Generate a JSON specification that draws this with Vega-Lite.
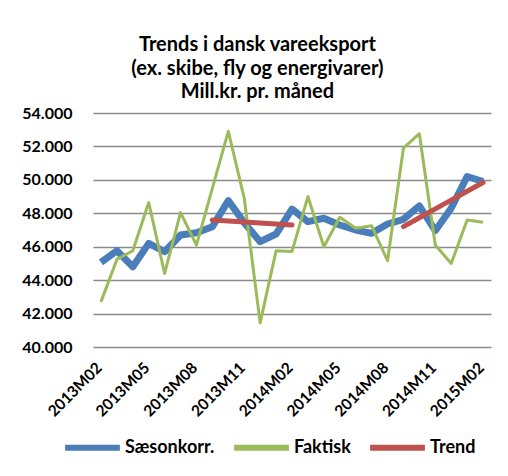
{
  "$schema": "https://vega.github.io/schema/vega-lite/v6.json",
  "width": 398,
  "height": 234,
  "autosize": {"type": "none"},
  "padding": {"left": 93, "top": 113, "right": 17, "bottom": 129},
  "background": "white",
  "config": {
    "font": "Lato",
    "view": {"stroke": null},
    "axis": {"labelFont": "Lato", "labelFontWeight": "bold", "labelColor": "#000000", "labelFontSize": 16}
  },
  "title": {
    "text": ["Trends i  dansk vareeksport", "(ex. skibe, fly og energivarer)", "Mill.kr. pr. måned"],
    "font": "Lato",
    "fontSize": 20,
    "fontWeight": "bold",
    "color": "#000000",
    "lineHeight": 23.5,
    "anchor": "middle",
    "frame": "bounds",
    "offset": 3
  },
  "datasets": {
    "saeson": [
      {"month": "2013M02", "series": "Sæsonkorr.", "value": 45060},
      {"month": "2013M03", "series": "Sæsonkorr.", "value": 45760},
      {"month": "2013M04", "series": "Sæsonkorr.", "value": 44800},
      {"month": "2013M05", "series": "Sæsonkorr.", "value": 46200},
      {"month": "2013M06", "series": "Sæsonkorr.", "value": 45700},
      {"month": "2013M07", "series": "Sæsonkorr.", "value": 46700},
      {"month": "2013M08", "series": "Sæsonkorr.", "value": 46840},
      {"month": "2013M09", "series": "Sæsonkorr.", "value": 47200},
      {"month": "2013M10", "series": "Sæsonkorr.", "value": 48760},
      {"month": "2013M11", "series": "Sæsonkorr.", "value": 47440},
      {"month": "2013M12", "series": "Sæsonkorr.", "value": 46300},
      {"month": "2014M01", "series": "Sæsonkorr.", "value": 46760},
      {"month": "2014M02", "series": "Sæsonkorr.", "value": 48250},
      {"month": "2014M03", "series": "Sæsonkorr.", "value": 47500},
      {"month": "2014M04", "series": "Sæsonkorr.", "value": 47700},
      {"month": "2014M05", "series": "Sæsonkorr.", "value": 47300},
      {"month": "2014M06", "series": "Sæsonkorr.", "value": 47000},
      {"month": "2014M07", "series": "Sæsonkorr.", "value": 46800},
      {"month": "2014M08", "series": "Sæsonkorr.", "value": 47360},
      {"month": "2014M09", "series": "Sæsonkorr.", "value": 47640},
      {"month": "2014M10", "series": "Sæsonkorr.", "value": 48440},
      {"month": "2014M11", "series": "Sæsonkorr.", "value": 46960},
      {"month": "2014M12", "series": "Sæsonkorr.", "value": 48300},
      {"month": "2015M01", "series": "Sæsonkorr.", "value": 50200},
      {"month": "2015M02", "series": "Sæsonkorr.", "value": 49900}
    ],
    "faktisk": [
      {"month": "2013M02", "series": "Faktisk", "value": 42700},
      {"month": "2013M03", "series": "Faktisk", "value": 45240},
      {"month": "2013M04", "series": "Faktisk", "value": 45760},
      {"month": "2013M05", "series": "Faktisk", "value": 48640},
      {"month": "2013M06", "series": "Faktisk", "value": 44400},
      {"month": "2013M07", "series": "Faktisk", "value": 48040},
      {"month": "2013M08", "series": "Faktisk", "value": 46100},
      {"month": "2013M09", "series": "Faktisk", "value": 49500},
      {"month": "2013M10", "series": "Faktisk", "value": 52900},
      {"month": "2013M11", "series": "Faktisk", "value": 48900},
      {"month": "2013M12", "series": "Faktisk", "value": 41440},
      {"month": "2014M01", "series": "Faktisk", "value": 45760},
      {"month": "2014M02", "series": "Faktisk", "value": 45720},
      {"month": "2014M03", "series": "Faktisk", "value": 49000},
      {"month": "2014M04", "series": "Faktisk", "value": 46000},
      {"month": "2014M05", "series": "Faktisk", "value": 47760},
      {"month": "2014M06", "series": "Faktisk", "value": 47100},
      {"month": "2014M07", "series": "Faktisk", "value": 47260},
      {"month": "2014M08", "series": "Faktisk", "value": 45160},
      {"month": "2014M09", "series": "Faktisk", "value": 51900},
      {"month": "2014M10", "series": "Faktisk", "value": 52760},
      {"month": "2014M11", "series": "Faktisk", "value": 46100},
      {"month": "2014M12", "series": "Faktisk", "value": 45000},
      {"month": "2015M01", "series": "Faktisk", "value": 47600},
      {"month": "2015M02", "series": "Faktisk", "value": 47460}
    ],
    "trend": [
      {"month": "2013M09", "series": "Trend", "seg": "a", "value": 47600},
      {"month": "2013M10", "series": "Trend", "seg": "a", "value": 47540},
      {"month": "2013M11", "series": "Trend", "seg": "a", "value": 47480},
      {"month": "2013M12", "series": "Trend", "seg": "a", "value": 47420},
      {"month": "2014M01", "series": "Trend", "seg": "a", "value": 47360},
      {"month": "2014M02", "series": "Trend", "seg": "a", "value": 47300},
      {"month": "2014M09", "series": "Trend", "seg": "b", "value": 47200},
      {"month": "2014M10", "series": "Trend", "seg": "b", "value": 47730},
      {"month": "2014M11", "series": "Trend", "seg": "b", "value": 48260},
      {"month": "2014M12", "series": "Trend", "seg": "b", "value": 48790},
      {"month": "2015M01", "series": "Trend", "seg": "b", "value": 49320},
      {"month": "2015M02", "series": "Trend", "seg": "b", "value": 49840}
    ]
  },
  "encoding": {
    "x": {
      "field": "month",
      "type": "ordinal",
      "scale": {
        "type": "point",
        "padding": 0.5,
        "domain": ["2013M02","2013M03","2013M04","2013M05","2013M06","2013M07","2013M08","2013M09","2013M10","2013M11","2013M12","2014M01","2014M02","2014M03","2014M04","2014M05","2014M06","2014M07","2014M08","2014M09","2014M10","2014M11","2014M12","2015M01","2015M02"]
      },
      "axis": {
        "title": null,
        "values": ["2013M02","2013M05","2013M08","2013M11","2014M02","2014M05","2014M08","2014M11","2015M02"],
        "labelAngle": -45,
        "labelAlign": "right",
        "labelBaseline": "top",
        "labelPadding": 13,
        "labelOffset": -7,
        "labelFontSize": 15.5,
        "ticks": false,
        "domain": false,
        "grid": false
      }
    },
    "y": {
      "field": "value",
      "type": "quantitative",
      "scale": {"domain": [40000, 54000], "nice": false, "zero": false},
      "axis": {
        "title": null,
        "values": [40000, 42000, 44000, 46000, 48000, 50000, 52000, 54000],
        "labelExpr": "replace(format(datum.value, ','), ',', '.')",
        "ticks": false,
        "domain": false,
        "grid": true,
        "gridColor": "#8a8a8a",
        "gridWidth": 1.6,
        "labelPadding": 21
      }
    },
    "color": {
      "field": "series",
      "type": "nominal",
      "scale": {"domain": ["Sæsonkorr.", "Faktisk", "Trend"], "range": ["#4A7EBB", "#9BBB59", "#C0504D"]},
      "legend": {
        "title": null,
        "orient": "none",
        "legendX": -31,
        "legendY": 304,
        "direction": "horizontal",
        "symbolType": "stroke",
        "symbolSize": 3000,
        "symbolStrokeWidth": 6,
        "labelFont": "Lato",
        "labelFontSize": 18,
        "labelFontWeight": "bold",
        "labelColor": "#000000",
        "columnPadding": 7,
        "labelOffset": 2
      }
    }
  },
  "layer": [
    {"data": {"name": "saeson"}, "mark": {"type": "line", "strokeWidth": 7, "strokeJoin": "round"}},
    {"data": {"name": "faktisk"}, "mark": {"type": "line", "strokeWidth": 3, "strokeJoin": "round"}},
    {"data": {"name": "trend"}, "mark": {"type": "line", "strokeWidth": 5, "strokeCap": "round"}, "encoding": {"detail": {"field": "seg"}}}
  ]
}
